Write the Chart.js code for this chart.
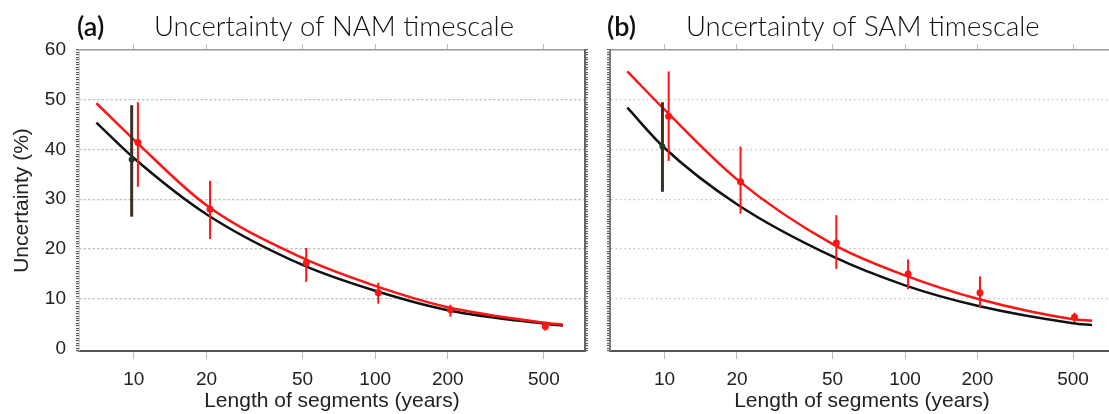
<!DOCTYPE html>
<html>
<head>
<meta charset="utf-8">
<script src="https://cdn.jsdelivr.net/npm/chart.js@4.4.1/dist/chart.umd.min.js"></script>
<style>
  html, body { margin: 0; padding: 0; background: #fff; overflow: hidden; }
  .panel { position: absolute; top: 0; height: 414px; }
  #panelA { left: 0; width: 595px; }
  #panelB { left: 595px; width: 529px; }
</style>
</head>
<body>
<div class="panel" id="panelA"><canvas id="chartA"></canvas></div>
<div class="panel" id="panelB"><canvas id="chartB"></canvas></div>
<script>
// tick labels
const xTicks = [10, 20, 50, 100, 200, 500];
const yTickStep = 10;

// fitted curves (length of segments -> uncertainty %)
const fitLength = [7, 10, 20, 50, 100, 200, 500, 600];
const namFitBlack = [45.4, 38.3, 27.0, 16.8, 11.6, 7.7, 5.0, 4.6];
const namFitRed = [49.3, 42.0, 28.8, 18.2, 12.6, 8.3, 5.2, 4.8];
const samFitBlack = [48.4, 40.3, 29.0, 18.5, 12.7, 8.6, 5.1, 4.7];
const samFitRed = [55.7, 48.0, 34.0, 21.0, 14.7, 10.0, 5.9, 5.6];

// red estimates with error bars
const barLength = [10.4, 20.7, 51.8, 103, 205, 507];
const namRedMid = [41.4, 28.0, 17.2, 11.2, 7.8, 4.4];
const namRedLow = [32.5, 22.0, 13.4, 9.0, 6.4, 3.6];
const namRedHigh = [49.5, 33.7, 20.2, 13.2, 8.8, 5.4];
const samRedMid = [46.7, 33.5, 21.2, 15.0, 11.2, 6.3];
const samRedLow = [37.7, 27.1, 16.0, 11.9, 8.2, 5.3];
const samRedHigh = [55.7, 40.6, 26.8, 17.9, 14.5, 7.2];

// black estimate at 10 years
const blackLength = 9.8;
const namBlack = { mid: 38.0, low: 26.5, high: 48.9 };
const samBlack = { mid: 40.6, low: 31.5, high: 49.5 };

const RED = "#ff1414";
const BLACK = "#111111";
const BAR_DARK = "#3b3024";
const tickFont = { family: "Liberation Sans", size: 19 };
const titleFont = { family: "Liberation Sans", size: 21 };

const panelTitle = {
  id: "panelTitle",
  afterDraw(chart, args, opts) {
    const { ctx } = chart;
    ctx.save();
    ctx.fillStyle = "#111";
    ctx.textBaseline = "alphabetic";
    ctx.font = "600 27px Lato";
    ctx.fillText(opts.label, opts.labelX, 36);
    ctx.font = "300 27.5px Lato";
    ctx.fillText(opts.text, opts.textX, 36);
    ctx.restore();
  },
};

const onStep = (v) => Math.abs(v - Math.round(v / yTickStep) * yTickStep) < 1e-6;
const isMajor = (v) => onStep(v) && v > 1 && v < 59;

const buildDatasets = (fitBlack, fitRed, mid, low, high, black) => {
  const sets = [];
  sets.push({
    data: barLength.map((x, i) => ({ x, y: mid[i] })),
    showLine: false,
    pointRadius: 3.5,
    pointBackgroundColor: RED,
    pointBorderWidth: 0,
  });
  sets.push({
    data: [{ x: blackLength, y: black.mid }],
    showLine: false,
    pointRadius: 3,
    pointBackgroundColor: "#1f3a1f",
    pointBorderWidth: 0,
  });
  barLength.forEach((x, i) => {
    sets.push({
      data: [{ x, y: low[i] }, { x, y: high[i] }],
      borderColor: RED,
      borderWidth: 2,
      pointRadius: 0,
    });
  });
  sets.push({
    data: [{ x: blackLength, y: black.low }, { x: blackLength, y: black.high }],
    borderColor: BAR_DARK,
    borderWidth: 3,
    pointRadius: 0,
  });
  sets.push({
    data: fitLength.map((x, i) => ({ x, y: fitRed[i] })),
    borderColor: RED,
    borderWidth: 2.5,
    pointRadius: 0,
    cubicInterpolationMode: "monotone",
  });
  sets.push({
    data: fitLength.map((x, i) => ({ x, y: fitBlack[i] })),
    borderColor: BLACK,
    borderWidth: 2.5,
    pointRadius: 0,
    cubicInterpolationMode: "monotone",
  });
  return sets;
};

const xAxis = (extra) => ({
  type: "logarithmic",
  min: 5.93,
  max: 740,
  afterBuildTicks: (s) => {
    s.ticks = xTicks.map((value) => ({ value }));
  },
  ...extra,
});

const yMinor = (width, labels, border) => ({
  type: "linear",
  min: -0.5,
  max: 60,
  afterFit: (s) => {
    s.width = width;
  },
  ticks: {
    stepSize: 0.5,
    autoSkip: false,
    maxTicksLimit: 200,
    padding: 10,
    color: "#222",
    font: tickFont,
    callback: (v) => (labels && onStep(v) && v > -0.01 ? String(Math.round(v)) : ""),
  },
  grid: {
    color: (c) => (isMajor(c.tick.value) ? "#c2c2c2" : "rgba(0,0,0,0)"),
    lineWidth: 1.3,
    tickLength: 3,
    tickWidth: 1,
    tickColor: (c) => (isMajor(c.tick.value) ? "#999" : "#444"),
  },
  border: { ...border, dash: [1.5, 3] },
});

const makeChart = (id, cfg) => {
  const scales = {
    x: xAxis({
      position: "bottom",
      afterFit: (s) => {
        s.height = 63;
      },
      ticks: {
        autoSkip: false,
        maxRotation: 0,
        padding: 9,
        color: "#222",
        font: tickFont,
        callback: (v) => String(v),
      },
      grid: { drawOnChartArea: false, tickLength: 8, tickColor: "#bbb" },
      border: { color: "#555", width: 2 },
      title: {
        display: true,
        text: "Length of segments (years)",
        color: "#222",
        font: titleFont,
        padding: { top: 0, bottom: 0 },
      },
    }),
    x2: xAxis({
      position: "top",
      afterFit: (s) => {
        s.height = 8;
      },
      ticks: { display: false },
      grid: { drawOnChartArea: false, tickLength: 6, tickColor: "#bbb" },
      border: { color: "#999", width: 1.5 },
    }),
    y: cfg.y,
  };
  if (cfg.y2) scales.y2 = cfg.y2;

  return new Chart(document.getElementById(id).getContext("2d"), {
    type: "line",
    data: { datasets: cfg.datasets },
    options: {
      responsive: true,
      maintainAspectRatio: false,
      animation: false,
      layout: { padding: { top: 42, right: cfg.padRight, bottom: 0, left: 0 } },
      scales,
      plugins: {
        legend: { display: false },
        tooltip: { enabled: false },
        panelTitle: cfg.title,
      },
    },
    plugins: [panelTitle],
  });
};

makeChart("chartA", {
  datasets: buildDatasets(namFitBlack, namFitRed, namRedMid, namRedLow, namRedHigh, namBlack),
  padRight: 0,
  y: {
    ...yMinor(79, true, { color: "#ccc", width: 1 }),
    title: {
      display: true,
      text: "Uncertainty (%)",
      color: "#222",
      font: titleFont,
      padding: { top: 10, bottom: 0 },
    },
  },
  y2: { ...yMinor(10, false, { color: "#666", width: 2 }), position: "right" },
  title: { label: "(a)", text: "Uncertainty of NAM timescale", labelX: 77, textX: 154 },
});

makeChart("chartB", {
  datasets: buildDatasets(samFitBlack, samFitRed, samRedMid, samRedLow, samRedHigh, samBlack),
  padRight: 10,
  y: yMinor(15, false, { color: "#777", width: 2 }),
  title: { label: "(b)", text: "Uncertainty of SAM timescale", labelX: 12, textX: 91 },
});
</script>
</body>
</html>
